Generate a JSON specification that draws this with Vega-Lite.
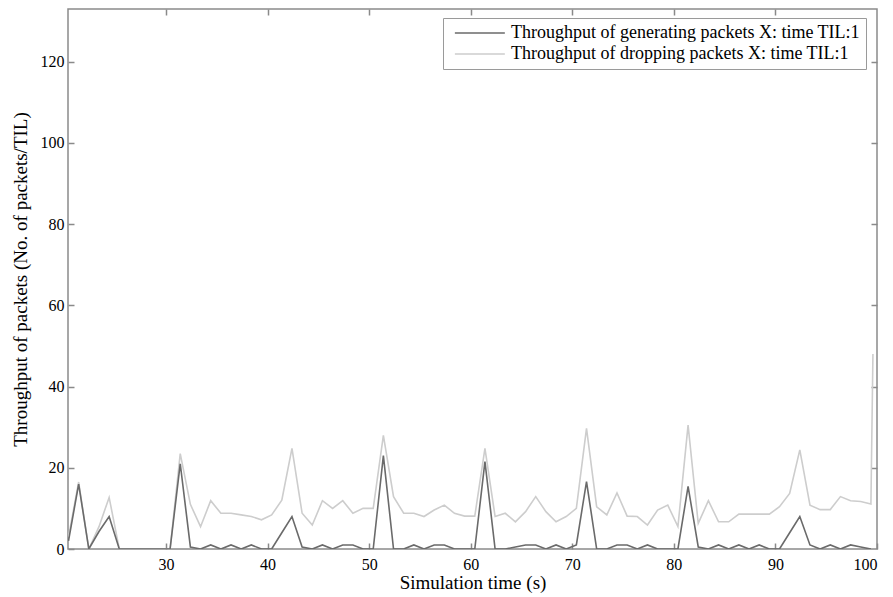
{
  "$schema": "https://vega.github.io/schema/vega-lite/v6.json",
  "autosize": "none",
  "width": 809,
  "height": 540,
  "padding": {"left": 68, "top": 9, "right": 16, "bottom": 48},
  "background": "white",
  "config": {
    "view": {"stroke": "#8a8a8a", "strokeWidth": 1.5},
    "font": "Liberation Serif",
    "axis": {
      "labelFont": "Liberation Serif",
      "titleFont": "Liberation Serif",
      "labelFontSize": 16,
      "titleFontSize": 19,
      "titleFontWeight": "normal",
      "labelColor": "#000",
      "titleColor": "#000",
      "domain": false,
      "grid": false,
      "tickColor": "#8a8a8a",
      "tickWidth": 1.5,
      "tickSize": -6
    },
    "legend": {
      "labelFont": "Liberation Serif",
      "labelFontSize": 18,
      "labelColor": "#000",
      "labelLimit": 0
    }
  },
  "data": {
    "values": [
      {"t":20.4,"s":"drop","v":3},{"t":21.4,"s":"drop","v":16.5},{"t":22.4,"s":"drop","v":0},{"t":23.4,"s":"drop","v":5.5},{"t":24.4,"s":"drop","v":12.7},{"t":25.4,"s":"drop","v":0},{"t":26.4,"s":"drop","v":0},{"t":27.4,"s":"drop","v":0},{"t":28.4,"s":"drop","v":0},{"t":29.4,"s":"drop","v":0},
      {"t":30.4,"s":"drop","v":0},{"t":31.4,"s":"drop","v":23.5},{"t":32.4,"s":"drop","v":11},{"t":33.4,"s":"drop","v":5.5},{"t":34.4,"s":"drop","v":11.9},{"t":35.4,"s":"drop","v":8.8},{"t":36.4,"s":"drop","v":8.8},{"t":37.4,"s":"drop","v":8.4},{"t":38.4,"s":"drop","v":8},{"t":39.4,"s":"drop","v":7.2},
      {"t":40.4,"s":"drop","v":8.4},{"t":41.4,"s":"drop","v":12},{"t":42.4,"s":"drop","v":24.8},{"t":43.4,"s":"drop","v":8.8},{"t":44.4,"s":"drop","v":5.9},{"t":45.4,"s":"drop","v":11.9},{"t":46.4,"s":"drop","v":10},{"t":47.4,"s":"drop","v":11.9},{"t":48.4,"s":"drop","v":8.8},{"t":49.4,"s":"drop","v":10},
      {"t":50.4,"s":"drop","v":10},{"t":51.4,"s":"drop","v":28},{"t":52.4,"s":"drop","v":12.9},{"t":53.4,"s":"drop","v":8.8},{"t":54.4,"s":"drop","v":8.8},{"t":55.4,"s":"drop","v":8},{"t":56.4,"s":"drop","v":9.6},{"t":57.4,"s":"drop","v":10.8},{"t":58.4,"s":"drop","v":8.8},{"t":59.4,"s":"drop","v":8.1},
      {"t":60.4,"s":"drop","v":8.1},{"t":61.4,"s":"drop","v":24.8},{"t":62.4,"s":"drop","v":8},{"t":63.4,"s":"drop","v":8.8},{"t":64.4,"s":"drop","v":6.7},{"t":65.4,"s":"drop","v":9.2},{"t":66.4,"s":"drop","v":12.9},{"t":67.4,"s":"drop","v":9.2},{"t":68.4,"s":"drop","v":6.7},{"t":69.4,"s":"drop","v":8},
      {"t":70.4,"s":"drop","v":10},{"t":71.4,"s":"drop","v":29.7},{"t":72.4,"s":"drop","v":10.4},{"t":73.4,"s":"drop","v":8.4},{"t":74.4,"s":"drop","v":13.8},{"t":75.4,"s":"drop","v":8.1},{"t":76.4,"s":"drop","v":8},{"t":77.4,"s":"drop","v":5.9},{"t":78.4,"s":"drop","v":9.6},{"t":79.4,"s":"drop","v":10.8},
      {"t":80.4,"s":"drop","v":5.5},{"t":81.4,"s":"drop","v":30.5},{"t":82.4,"s":"drop","v":6.3},{"t":83.4,"s":"drop","v":11.9},{"t":84.4,"s":"drop","v":6.7},{"t":85.4,"s":"drop","v":6.7},{"t":86.4,"s":"drop","v":8.6},{"t":87.4,"s":"drop","v":8.6},{"t":88.4,"s":"drop","v":8.6},{"t":89.4,"s":"drop","v":8.6},
      {"t":90.4,"s":"drop","v":10.4},{"t":91.4,"s":"drop","v":13.7},{"t":92.4,"s":"drop","v":24.4},{"t":93.4,"s":"drop","v":10.8},{"t":94.4,"s":"drop","v":9.7},{"t":95.4,"s":"drop","v":9.7},{"t":96.4,"s":"drop","v":12.9},{"t":97.4,"s":"drop","v":11.9},{"t":98.4,"s":"drop","v":11.7},{"t":99.4,"s":"drop","v":11.1},{"t":99.6,"s":"drop","v":48},
      {"t":20.4,"s":"gen","v":2},{"t":21.4,"s":"gen","v":16},{"t":22.4,"s":"gen","v":0},{"t":23.4,"s":"gen","v":4.3},{"t":24.4,"s":"gen","v":8},{"t":25.4,"s":"gen","v":0},{"t":26.4,"s":"gen","v":0},{"t":27.4,"s":"gen","v":0},{"t":28.4,"s":"gen","v":0},{"t":29.4,"s":"gen","v":0},
      {"t":30.4,"s":"gen","v":0},{"t":31.4,"s":"gen","v":21},{"t":32.4,"s":"gen","v":0.5},{"t":33.4,"s":"gen","v":0},{"t":34.4,"s":"gen","v":1},{"t":35.4,"s":"gen","v":0},{"t":36.4,"s":"gen","v":1},{"t":37.4,"s":"gen","v":0},{"t":38.4,"s":"gen","v":1},{"t":39.4,"s":"gen","v":0},
      {"t":40.4,"s":"gen","v":0},{"t":41.4,"s":"gen","v":4},{"t":42.4,"s":"gen","v":8},{"t":43.4,"s":"gen","v":0.5},{"t":44.4,"s":"gen","v":0},{"t":45.4,"s":"gen","v":1},{"t":46.4,"s":"gen","v":0},{"t":47.4,"s":"gen","v":1},{"t":48.4,"s":"gen","v":1},{"t":49.4,"s":"gen","v":0},
      {"t":50.4,"s":"gen","v":0},{"t":51.4,"s":"gen","v":23},{"t":52.4,"s":"gen","v":0},{"t":53.4,"s":"gen","v":0},{"t":54.4,"s":"gen","v":1},{"t":55.4,"s":"gen","v":0},{"t":56.4,"s":"gen","v":1},{"t":57.4,"s":"gen","v":1},{"t":58.4,"s":"gen","v":0},{"t":59.4,"s":"gen","v":0},
      {"t":60.4,"s":"gen","v":0},{"t":61.4,"s":"gen","v":21.5},{"t":62.4,"s":"gen","v":0},{"t":63.4,"s":"gen","v":0},{"t":64.4,"s":"gen","v":0.5},{"t":65.4,"s":"gen","v":1},{"t":66.4,"s":"gen","v":1},{"t":67.4,"s":"gen","v":0},{"t":68.4,"s":"gen","v":1},{"t":69.4,"s":"gen","v":0},
      {"t":70.4,"s":"gen","v":1},{"t":71.4,"s":"gen","v":16.6},{"t":72.4,"s":"gen","v":0},{"t":73.4,"s":"gen","v":0},{"t":74.4,"s":"gen","v":1},{"t":75.4,"s":"gen","v":1},{"t":76.4,"s":"gen","v":0},{"t":77.4,"s":"gen","v":1},{"t":78.4,"s":"gen","v":0},{"t":79.4,"s":"gen","v":0},
      {"t":80.4,"s":"gen","v":0},{"t":81.4,"s":"gen","v":15.4},{"t":82.4,"s":"gen","v":0.5},{"t":83.4,"s":"gen","v":0},{"t":84.4,"s":"gen","v":1},{"t":85.4,"s":"gen","v":0},{"t":86.4,"s":"gen","v":1},{"t":87.4,"s":"gen","v":0},{"t":88.4,"s":"gen","v":1},{"t":89.4,"s":"gen","v":0},
      {"t":90.4,"s":"gen","v":0},{"t":91.4,"s":"gen","v":4},{"t":92.4,"s":"gen","v":8},{"t":93.4,"s":"gen","v":1},{"t":94.4,"s":"gen","v":0},{"t":95.4,"s":"gen","v":1},{"t":96.4,"s":"gen","v":0},{"t":97.4,"s":"gen","v":1},{"t":98.4,"s":"gen","v":0.5},{"t":99.4,"s":"gen","v":0}
    ]
  },
  "resolve": {"axis": {"x": "independent", "y": "independent"}},
  "layer": [
    {
      "transform": [{"filter": "datum.s === 'drop'"}],
      "mark": {"type": "line", "strokeWidth": 1.6, "clip": true},
      "encoding": {
        "x": {"field": "t", "type": "quantitative",
              "scale": {"domain": [20.35, 100], "nice": false, "zero": false},
              "axis": {"values": [30, 40, 50, 60, 70, 80, 90, 100], "title": "Simulation time (s)", "labelPadding": 13, "titlePadding": 1}},
        "y": {"field": "v", "type": "quantitative",
              "scale": {"domain": [0, 133], "nice": false},
              "axis": {"values": [0, 20, 40, 60, 80, 100, 120], "title": "Throughput of packets (No. of packets/TIL)", "labelPadding": 10, "titlePadding": 10}},
        "color": {"field": "s", "type": "nominal",
                  "scale": {"domain": ["gen", "drop"], "range": ["#6a6a6a", "#cdcdcd"]},
                  "legend": {"title": null, "orient": "none", "legendX": 375, "legendY": 9,
                             "symbolType": "M-1,0L15,0", "symbolSize": 39, "symbolStrokeWidth": 1.6,
                             "labelExpr": "datum.value === 'gen' ? 'Throughput of generating packets X: time TIL:1' : 'Throughput of dropping packets X: time TIL:1'",
                             "fillColor": "white", "strokeColor": "#9a9a9a", "padding": 6, "rowPadding": 3, "labelOffset": 44}}
      }
    },
    {
      "transform": [{"filter": "datum.s === 'gen'"}],
      "mark": {"type": "line", "strokeWidth": 1.6, "clip": true},
      "encoding": {
        "x": {"field": "t", "type": "quantitative",
              "axis": {"orient": "top", "values": [30, 40, 50, 60, 70, 80, 90], "labels": false, "title": null}},
        "y": {"field": "v", "type": "quantitative",
              "axis": {"orient": "right", "values": [20, 40, 60, 80, 100, 120], "labels": false, "title": null}},
        "color": {"field": "s", "type": "nominal"}
      }
    }
  ]
}
